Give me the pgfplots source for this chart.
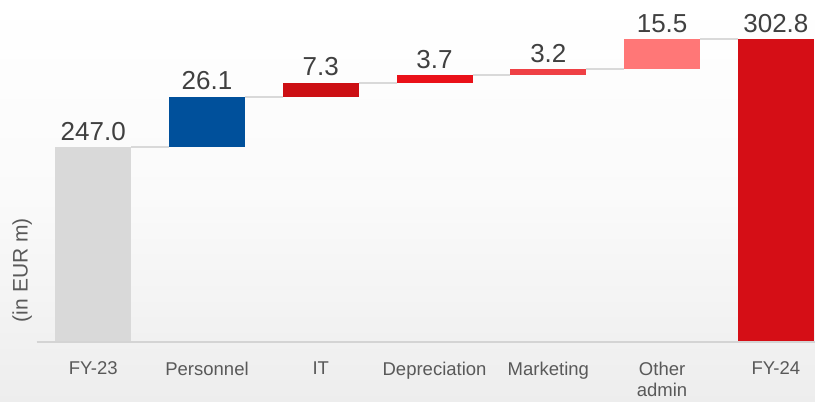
\documentclass[border=0pt]{standalone}
\usepackage{pgfplots}
\pgfplotsset{compat=1.18}
\usepackage{pgfplotstable}
\usepackage{fontspec}
\setmainfont{Liberation Sans}
\usetikzlibrary{backgrounds}
\definecolor{cfy23}{HTML}{D9D9D9}
\definecolor{cpers}{HTML}{00509B}
\definecolor{cit}{HTML}{CC0F14}
\definecolor{cdep}{HTML}{EA1119}
\definecolor{cmkt}{HTML}{EF4045}
\definecolor{coth}{HTML}{FF7777}
\definecolor{cfy24}{HTML}{D50E16}
\definecolor{conngray}{HTML}{D9D9D9}
\definecolor{axisgray}{HTML}{D4D4D4}
\definecolor{labelgray}{HTML}{404040}
\definecolor{tickgray}{HTML}{595959}

\pgfplotstableread{
x base fyA pers it dep mkt oth fyB
0 0     247 0    0   0   0   0    0
1 247   0   26.1 0   0   0   0    0
2 273.1 0   0    7.3 0   0   0    0
3 280.4 0   0    0   3.7 0   0    0
4 284.1 0   0    0   0   3.2 0    0
5 287.3 0   0    0   0   0   15.5 0
6 0     0   0    0   0   0   0    302.8
}\bars

\pgfplotsset{
  common/.style={
    scale only axis, width=778.3pt, height=342pt,
    xmin=-0.497, xmax=6.344, ymin=146.8, ymax=322.9,
    ytick=\empty, major tick length=0pt,
    axis line style={draw=none},
  }
}

\begin{document}
\begin{tikzpicture}
\begin{axis}[common, ybar stacked, bar width=0.668, xtick=\empty]
  \addplot[draw=none, fill=none] table[x=x, y=base] {\bars};
  \addplot[draw=none, fill=cfy23] table[x=x, y=fyA] {\bars};
  \addplot[draw=none, fill=cpers] table[x=x, y=pers] {\bars};
  \addplot[draw=none, fill=cit] table[x=x, y=it] {\bars};
  \addplot[draw=none, fill=cdep] table[x=x, y=dep] {\bars};
  \addplot[draw=none, fill=cmkt] table[x=x, y=mkt] {\bars};
  \addplot[draw=none, fill=coth] table[x=x, y=oth] {\bars};
  \addplot[draw=none, fill=cfy24] table[x=x, y=fyB] {\bars};
  \coordinate (ll) at (rel axis cs:0,0);
  \coordinate (ur) at (rel axis cs:1,1);
\end{axis}
\begin{axis}[common, clip=false,
  xtick={0,...,6},
  xticklabels={FY-23, Personnel, IT, Depreciation, Marketing, {Other\\admin}, FY-24},
  xticklabel style={align=center, font=\fontsize{18.5}{21}\selectfont, text=tickgray, yshift=-16.5pt},
]
  \addplot[conngray, line width=2pt, unbounded coords=jump] coordinates {
    (0.334,247) (0.666,247) (1,nan)
    (1.334,273.1) (1.666,273.1) (2,nan)
    (2.334,280.4) (2.666,280.4) (3,nan)
    (3.334,284.1) (3.666,284.1) (4,nan)
    (4.334,287.3) (4.666,287.3) (5,nan)
    (5.334,302.8) (5.666,302.8)
  };
  \addplot[axisgray, line width=2pt] coordinates {(-0.497,146.8) (6.344,146.8)};
  \addplot[draw=none, mark=none, nodes near coords, point meta=explicit symbolic,
    every node near coord/.append style={anchor=base, yshift=7pt, inner sep=0pt,
      font=\fontsize{26}{30}\selectfont, text=labelgray}]
    coordinates {
    (0,247) [247.0]
    (1,273.1) [26.1]
    (2,280.4) [7.3]
    (3,284.1) [3.7]
    (4,287.3) [3.2]
    (5,302.8) [15.5]
    (6,302.8) [302.8]
  };
  \node[rotate=90, font=\fontsize{21}{25}\selectfont, text=tickgray]
    at ([xshift=-14.5pt]rel axis cs:0,0.21) {(in EUR m)};
\end{axis}
\begin{scope}[on background layer]
  \shade[top color=white, bottom color=black!7, middle color=black!2]
    ([shift={(-36.7pt,-59pt)}]ll) rectangle (ur);
\end{scope}
\pgfresetboundingbox
\path ([shift={(-36.7pt,-59pt)}]ll) rectangle (ur);
\end{tikzpicture}
\end{document}
